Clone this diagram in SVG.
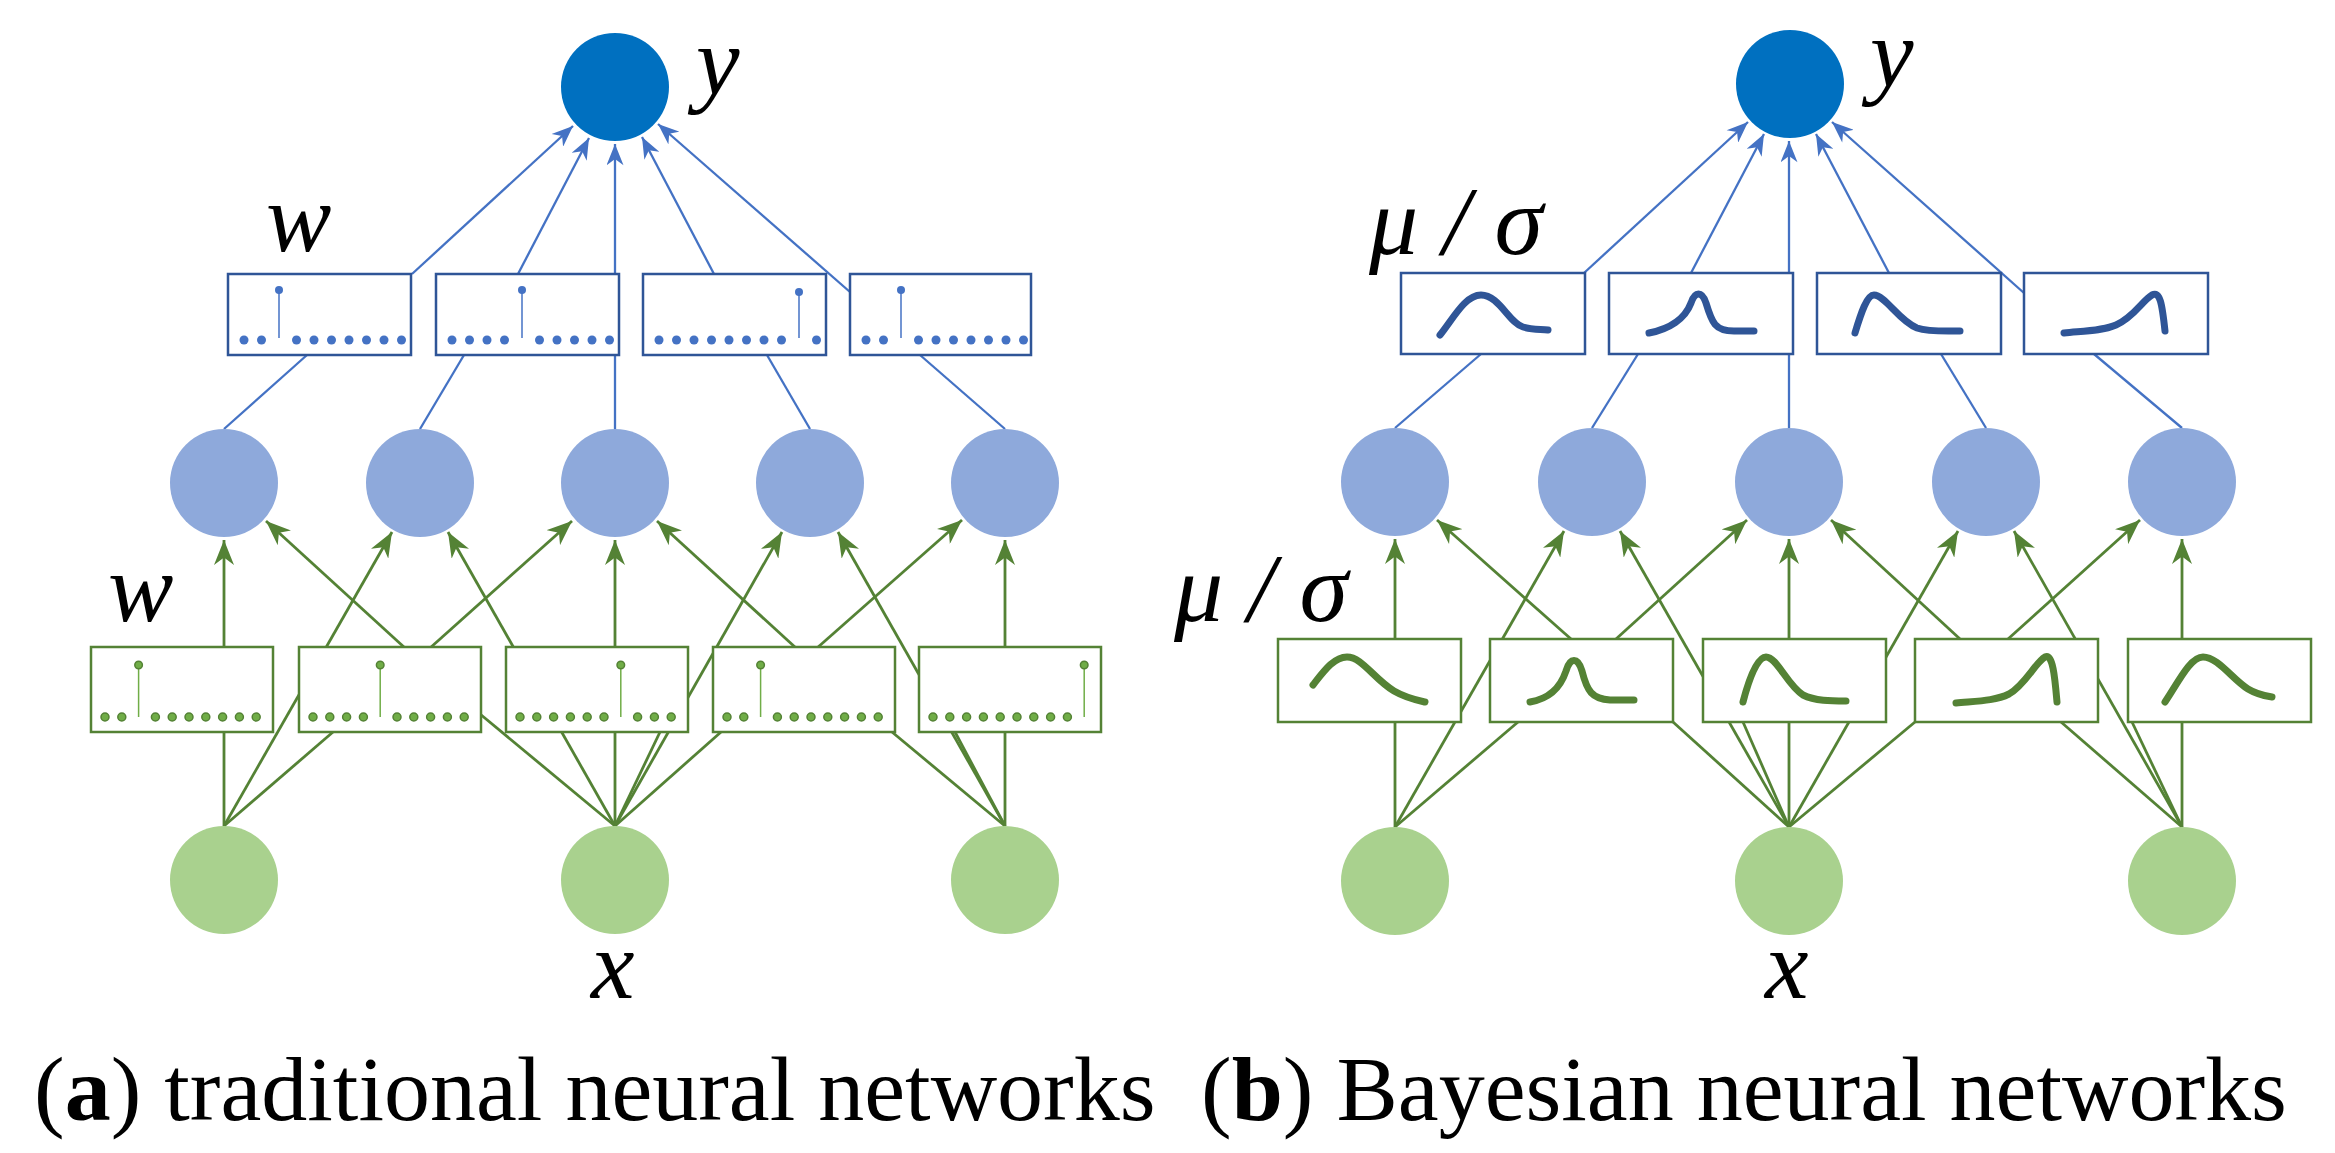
<svg xmlns="http://www.w3.org/2000/svg" width="2335" height="1153" viewBox="0 0 2335 1153">
<style>
.out{fill:#0070C0}
.hid{fill:#8EA9DB}
.inp{fill:#A9D18E}
.bb{fill:#fff;stroke:#2F5597;stroke-width:2.5}
.gb{fill:#fff;stroke:#548235;stroke-width:2.5}
.bl{stroke:#4472C4;stroke-width:2.3;fill:none}
.gl{stroke:#548235;stroke-width:2.8;fill:none}
.ba{stroke:#4472C4;stroke-width:2.3;fill:none;marker-end:url(#ab)}
.ga{stroke:#548235;stroke-width:2.8;fill:none;marker-end:url(#ag)}
.bd{fill:#4472C4}
.gd{fill:#70AD47;stroke:#548235;stroke-width:1.5}
.bs{stroke:#4472C4;stroke-width:1.5}
.gs{stroke:#70AD47;stroke-width:1.5}
.bc{fill:none;stroke:#2F5597;stroke-width:7;stroke-linecap:round}
.gc{fill:none;stroke:#548235;stroke-width:7;stroke-linecap:round}
.lab{font-family:"Liberation Serif",serif;font-style:italic;font-size:98px;fill:#000}
.cap{font-family:"Liberation Serif",serif;font-size:92px;fill:#000}
</style>
<defs>
<marker id="ab" markerUnits="userSpaceOnUse" viewBox="0 0 10 8" markerWidth="22" markerHeight="17" refX="10" refY="4" orient="auto"><path d="M0,0 L10,4 L0,8 L3,4 z" fill="#4472C4"/></marker>
<marker id="ag" markerUnits="userSpaceOnUse" viewBox="0 0 10 8" markerWidth="25" markerHeight="20" refX="10" refY="4" orient="auto"><path d="M0,0 L10,4 L0,8 L3,4 z" fill="#548235"/></marker>
</defs>
<rect width="2335" height="1153" fill="#fff"/>

<g id="connectors">
<line class="bl" x1="224" y1="429" x2="307" y2="355"/>
<line class="ba" x1="412" y1="274" x2="573" y2="126"/>
<line class="bl" x1="420" y1="429" x2="464" y2="355"/>
<line class="ba" x1="518" y1="274" x2="589" y2="138"/>
<line class="bl" x1="615" y1="429" x2="615" y2="355"/>
<line class="ba" x1="615" y1="274" x2="615" y2="144"/>
<line class="bl" x1="810" y1="429" x2="767" y2="355"/>
<line class="ba" x1="714" y1="274" x2="642" y2="137"/>
<line class="bl" x1="1005" y1="429" x2="920" y2="355"/>
<line class="ba" x1="850" y1="292" x2="658" y2="124"/>
<line class="gl" x1="224" y1="826" x2="224" y2="732"/>
<line class="ga" x1="224" y1="648" x2="224" y2="540"/>
<line class="gl" x1="224" y1="826" x2="333" y2="732"/>
<line class="ga" x1="405" y1="648" x2="266" y2="521"/>
<line class="ga" x1="430" y1="648" x2="572" y2="521"/>
<line class="ga" x1="224" y1="826" x2="392" y2="532"/>
<line class="gl" x1="615" y1="826" x2="480" y2="714"/>
<line class="ga" x1="615" y1="826" x2="448" y2="532"/>
<line class="gl" x1="615" y1="826" x2="660" y2="732"/>
<line class="gl" x1="615" y1="826" x2="615" y2="732"/>
<line class="ga" x1="615" y1="648" x2="615" y2="540"/>
<line class="gl" x1="615" y1="826" x2="721" y2="732"/>
<line class="ga" x1="796" y1="648" x2="657" y2="521"/>
<line class="ga" x1="817" y1="648" x2="962" y2="520"/>
<line class="ga" x1="615" y1="826" x2="782" y2="532"/>
<line class="ga" x1="1005" y1="826" x2="838" y2="532"/>
<line class="gl" x1="1005" y1="826" x2="892" y2="732"/>
<line class="gl" x1="1005" y1="826" x2="955" y2="732"/>
<line class="gl" x1="1005" y1="826" x2="1005" y2="732"/>
<line class="ga" x1="1005" y1="648" x2="1005" y2="540"/>
<line class="bl" x1="1395" y1="428" x2="1481" y2="354"/>
<line class="ba" x1="1584" y1="273" x2="1748" y2="122"/>
<line class="bl" x1="1592" y1="428" x2="1638" y2="354"/>
<line class="ba" x1="1691" y1="273" x2="1764" y2="134"/>
<line class="bl" x1="1789" y1="428" x2="1789" y2="354"/>
<line class="ba" x1="1789" y1="273" x2="1789" y2="141"/>
<line class="bl" x1="1986" y1="428" x2="1941" y2="354"/>
<line class="ba" x1="1889" y1="273" x2="1816" y2="134"/>
<line class="bl" x1="2182" y1="428" x2="2094" y2="354"/>
<line class="ba" x1="2024" y1="293" x2="1832" y2="122"/>
<line class="gl" x1="1395" y1="827" x2="1395" y2="722"/>
<line class="ga" x1="1395" y1="639" x2="1395" y2="539"/>
<line class="gl" x1="1395" y1="827" x2="1518" y2="722"/>
<line class="ga" x1="1571" y1="639" x2="1437" y2="520"/>
<line class="ga" x1="1616" y1="639" x2="1747" y2="520"/>
<line class="ga" x1="1395" y1="827" x2="1564" y2="531"/>
<line class="gl" x1="1789" y1="827" x2="1673" y2="722"/>
<line class="ga" x1="1789" y1="827" x2="1620" y2="531"/>
<line class="gl" x1="1789" y1="827" x2="1743" y2="722"/>
<line class="gl" x1="1789" y1="827" x2="1789" y2="722"/>
<line class="ga" x1="1789" y1="639" x2="1789" y2="539"/>
<line class="gl" x1="1789" y1="827" x2="1915" y2="722"/>
<line class="ga" x1="1960" y1="639" x2="1831" y2="520"/>
<line class="ga" x1="2008" y1="639" x2="2140" y2="520"/>
<line class="ga" x1="1789" y1="827" x2="1958" y2="531"/>
<line class="ga" x1="2182" y1="827" x2="2014" y2="531"/>
<line class="gl" x1="2182" y1="827" x2="2061" y2="722"/>
<line class="gl" x1="2182" y1="827" x2="2132" y2="722"/>
<line class="gl" x1="2182" y1="827" x2="2182" y2="722"/>
<line class="ga" x1="2182" y1="639" x2="2182" y2="539"/>
</g>

<g id="a-y"><circle class="out" cx="615" cy="87" r="54"/></g>
<g id="a-h1"><circle class="hid" cx="224" cy="483" r="54"/></g>
<g id="a-h2"><circle class="hid" cx="420" cy="483" r="54"/></g>
<g id="a-h3"><circle class="hid" cx="615" cy="483" r="54"/></g>
<g id="a-h4"><circle class="hid" cx="810" cy="483" r="54"/></g>
<g id="a-h5"><circle class="hid" cx="1005" cy="483" r="54"/></g>
<g id="a-x1"><circle class="inp" cx="224" cy="880" r="54"/></g>
<g id="a-x2"><circle class="inp" cx="615" cy="880" r="54"/></g>
<g id="a-x3"><circle class="inp" cx="1005" cy="880" r="54"/></g>

<g id="a-t1" transform="translate(228,274)"><rect class="bb" width="183" height="81"/>
<line class="bs" x1="51" y1="16" x2="51" y2="64"/><circle class="bd" cx="51" cy="16" r="4"/>
<g class="bd"><circle cx="16" cy="66" r="4.5"/><circle cx="33.5" cy="66" r="4.5"/><circle cx="68.5" cy="66" r="4.5"/><circle cx="86" cy="66" r="4.5"/><circle cx="103.5" cy="66" r="4.5"/><circle cx="121" cy="66" r="4.5"/><circle cx="138.5" cy="66" r="4.5"/><circle cx="156" cy="66" r="4.5"/><circle cx="173.5" cy="66" r="4.5"/></g></g>
<g id="a-t2" transform="translate(436,274)"><rect class="bb" width="183" height="81"/>
<line class="bs" x1="86" y1="16" x2="86" y2="64"/><circle class="bd" cx="86" cy="16" r="4"/>
<g class="bd"><circle cx="16" cy="66" r="4.5"/><circle cx="33.5" cy="66" r="4.5"/><circle cx="51" cy="66" r="4.5"/><circle cx="68.5" cy="66" r="4.5"/><circle cx="103.5" cy="66" r="4.5"/><circle cx="121" cy="66" r="4.5"/><circle cx="138.5" cy="66" r="4.5"/><circle cx="156" cy="66" r="4.5"/><circle cx="173.5" cy="66" r="4.5"/></g></g>
<g id="a-t3" transform="translate(643,274)"><rect class="bb" width="183" height="81"/>
<line class="bs" x1="156" y1="18" x2="156" y2="64"/><circle class="bd" cx="156" cy="18" r="4"/>
<g class="bd"><circle cx="16" cy="66" r="4.5"/><circle cx="33.5" cy="66" r="4.5"/><circle cx="51" cy="66" r="4.5"/><circle cx="68.5" cy="66" r="4.5"/><circle cx="86" cy="66" r="4.5"/><circle cx="103.5" cy="66" r="4.5"/><circle cx="121" cy="66" r="4.5"/><circle cx="138.5" cy="66" r="4.5"/><circle cx="173.5" cy="66" r="4.5"/></g></g>
<g id="a-t4" transform="translate(850,274)"><rect class="bb" width="181" height="81"/>
<line class="bs" x1="51" y1="16" x2="51" y2="64"/><circle class="bd" cx="51" cy="16" r="4"/>
<g class="bd"><circle cx="16" cy="66" r="4.5"/><circle cx="33.5" cy="66" r="4.5"/><circle cx="68.5" cy="66" r="4.5"/><circle cx="86" cy="66" r="4.5"/><circle cx="103.5" cy="66" r="4.5"/><circle cx="121" cy="66" r="4.5"/><circle cx="138.5" cy="66" r="4.5"/><circle cx="156" cy="66" r="4.5"/><circle cx="173.5" cy="66" r="4.5"/></g></g>

<g id="a-b1" transform="translate(91,647)"><rect class="gb" width="182" height="85"/>
<line class="gs" x1="47.6" y1="18" x2="47.6" y2="70"/><circle class="gd" cx="47.6" cy="18" r="3.8"/>
<g class="gd"><circle cx="14" cy="70" r="4"/><circle cx="30.8" cy="70" r="4"/><circle cx="64.4" cy="70" r="4"/><circle cx="81.2" cy="70" r="4"/><circle cx="98" cy="70" r="4"/><circle cx="114.8" cy="70" r="4"/><circle cx="131.6" cy="70" r="4"/><circle cx="148.4" cy="70" r="4"/><circle cx="165.2" cy="70" r="4"/></g></g>
<g id="a-b2" transform="translate(299,647)"><rect class="gb" width="182" height="85"/>
<line class="gs" x1="81.2" y1="18" x2="81.2" y2="70"/><circle class="gd" cx="81.2" cy="18" r="3.8"/>
<g class="gd"><circle cx="14" cy="70" r="4"/><circle cx="30.8" cy="70" r="4"/><circle cx="47.6" cy="70" r="4"/><circle cx="64.4" cy="70" r="4"/><circle cx="98" cy="70" r="4"/><circle cx="114.8" cy="70" r="4"/><circle cx="131.6" cy="70" r="4"/><circle cx="148.4" cy="70" r="4"/><circle cx="165.2" cy="70" r="4"/></g></g>
<g id="a-b3" transform="translate(506,647)"><rect class="gb" width="182" height="85"/>
<line class="gs" x1="114.8" y1="18" x2="114.8" y2="70"/><circle class="gd" cx="114.8" cy="18" r="3.8"/>
<g class="gd"><circle cx="14" cy="70" r="4"/><circle cx="30.8" cy="70" r="4"/><circle cx="47.6" cy="70" r="4"/><circle cx="64.4" cy="70" r="4"/><circle cx="81.2" cy="70" r="4"/><circle cx="98" cy="70" r="4"/><circle cx="131.6" cy="70" r="4"/><circle cx="148.4" cy="70" r="4"/><circle cx="165.2" cy="70" r="4"/></g></g>
<g id="a-b4" transform="translate(713,647)"><rect class="gb" width="182" height="85"/>
<line class="gs" x1="47.6" y1="18" x2="47.6" y2="70"/><circle class="gd" cx="47.6" cy="18" r="3.8"/>
<g class="gd"><circle cx="14" cy="70" r="4"/><circle cx="30.8" cy="70" r="4"/><circle cx="64.4" cy="70" r="4"/><circle cx="81.2" cy="70" r="4"/><circle cx="98" cy="70" r="4"/><circle cx="114.8" cy="70" r="4"/><circle cx="131.6" cy="70" r="4"/><circle cx="148.4" cy="70" r="4"/><circle cx="165.2" cy="70" r="4"/></g></g>
<g id="a-b5" transform="translate(919,647)"><rect class="gb" width="182" height="85"/>
<line class="gs" x1="165.2" y1="18" x2="165.2" y2="70"/><circle class="gd" cx="165.2" cy="18" r="3.8"/>
<g class="gd"><circle cx="14" cy="70" r="4"/><circle cx="30.8" cy="70" r="4"/><circle cx="47.6" cy="70" r="4"/><circle cx="64.4" cy="70" r="4"/><circle cx="81.2" cy="70" r="4"/><circle cx="98" cy="70" r="4"/><circle cx="114.8" cy="70" r="4"/><circle cx="131.6" cy="70" r="4"/><circle cx="148.4" cy="70" r="4"/></g></g>

<g id="b-y"><circle class="out" cx="1790" cy="84" r="54"/></g>
<g id="b-h1"><circle class="hid" cx="1395" cy="482" r="54"/></g>
<g id="b-h2"><circle class="hid" cx="1592" cy="482" r="54"/></g>
<g id="b-h3"><circle class="hid" cx="1789" cy="482" r="54"/></g>
<g id="b-h4"><circle class="hid" cx="1986" cy="482" r="54"/></g>
<g id="b-h5"><circle class="hid" cx="2182" cy="482" r="54"/></g>
<g id="b-x1"><circle class="inp" cx="1395" cy="881" r="54"/></g>
<g id="b-x2"><circle class="inp" cx="1789" cy="881" r="54"/></g>
<g id="b-x3"><circle class="inp" cx="2182" cy="881" r="54"/></g>

<g id="b-t1" transform="translate(1401,273)"><rect class="bb" width="184" height="81"/>
<path class="bc" d="M39,62 C52,46 64,22 80,22 C98,22 108,50 122,54 C132,57 140,56 147,57"/></g>
<g id="b-t2" transform="translate(1609,273)"><rect class="bb" width="184" height="81"/>
<path class="bc" d="M40,60 C60,56 76,46 82,30 C86,18 93,18 97,30 C103,50 106,58 125,58 L145,58"/></g>
<g id="b-t3" transform="translate(1817,273)"><rect class="bb" width="184" height="81"/>
<path class="bc" d="M38,60 C44,40 50,22 57,22 C68,22 82,48 100,55 C112,59 128,58 143,58"/></g>
<g id="b-t4" transform="translate(2024,273)"><rect class="bb" width="184" height="81"/>
<path class="bc" d="M40,60 C60,58 78,58 92,52 C110,44 118,28 128,22 C136,18 138,30 141,58"/></g>

<g id="b-b1" transform="translate(1278,639)"><rect class="gb" width="183" height="83"/>
<path class="gc" d="M35,46 C46,32 56,18 69,18 C84,18 96,40 116,52 C128,59 138,61 147,63"/></g>
<g id="b-b2" transform="translate(1490,639)"><rect class="gb" width="183" height="83"/>
<path class="gc" d="M40,63 C58,60 70,50 76,32 C80,18 88,18 92,32 C97,52 102,60 120,61 L144,61"/></g>
<g id="b-b3" transform="translate(1703,639)"><rect class="gb" width="183" height="83"/>
<path class="gc" d="M40,63 C46,40 54,18 63,18 C74,18 84,46 100,56 C112,62 128,62 143,62"/></g>
<g id="b-b4" transform="translate(1915,639)"><rect class="gb" width="183" height="83"/>
<path class="gc" d="M41,64 C62,62 80,62 94,55 C110,46 120,24 130,18 C138,14 140,40 142,63"/></g>
<g id="b-b5" transform="translate(2128,639)"><rect class="gb" width="183" height="83"/>
<path class="gc" d="M37,63 C50,44 62,18 75,18 C90,18 104,40 120,50 C130,56 138,57 144,58"/></g>

<text class="lab" x="696" y="94">y</text>
<text class="lab" x="266" y="251">w</text>
<text class="lab" x="108" y="621">w</text>
<text class="lab" x="591" y="998">x</text>
<text class="lab" x="1870" y="86">y</text>
<text class="lab" x="1369" y="254">μ / σ</text>
<text class="lab" x="1174" y="621">μ / σ</text>
<text class="lab" x="1765" y="998">x</text>
<text class="cap" x="34" y="1120">(<tspan font-weight="bold">a</tspan>) traditional neural networks</text>
<text class="cap" x="1201" y="1120">(<tspan font-weight="bold">b</tspan>) Bayesian neural networks</text>
</svg>
